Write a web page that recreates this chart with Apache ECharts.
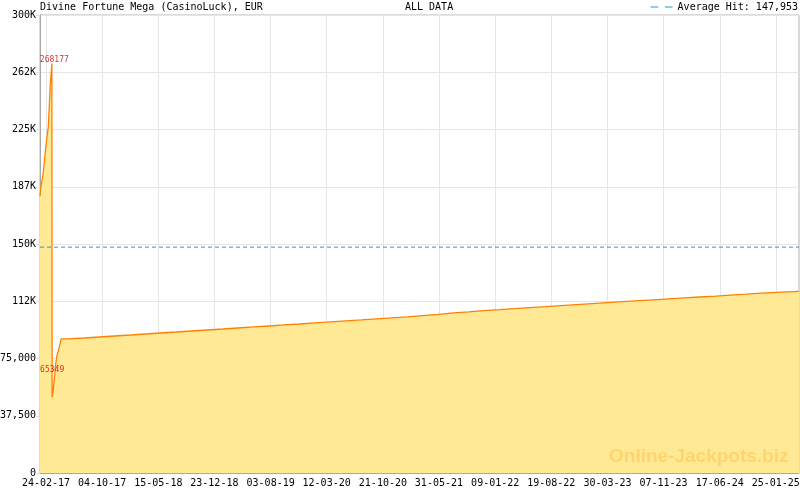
<!DOCTYPE html>
<html><head><meta charset="utf-8">
<script src="https://cdn.jsdelivr.net/npm/echarts@6/dist/echarts.min.js"></script>
<style>html,body{margin:0;padding:0;background:#fff}#c{width:800px;height:490px}</style>
</head><body><div id="c"></div>
<script>
const chartTitle = 'Divine Fortune Mega (CasinoLuck), EUR';
const periodLabel = 'ALL DATA';
const watermark = 'Online-Jackpots.biz';
const axisStart = '2017-01-31';
const axisEnd = '2025-04-27';
const tickLabels = ['24-02-17','04-10-17','15-05-18','23-12-18','03-08-19','12-03-20','21-10-20',
  '31-05-21','09-01-22','19-08-22','30-03-23','07-11-23','17-06-24','25-01-25'];
const jackpotDates = [
  '2017-01-31','2017-02-05','2017-02-09','2017-02-13','2017-02-17','2017-02-21','2017-02-25',
  '2017-03-01','2017-03-05','2017-03-09','2017-03-13','2017-03-16','2017-03-19','2017-03-20',
  '2017-03-23','2017-03-27','2017-03-31','2017-04-02','2017-04-08','2017-04-13','2017-04-18','2017-04-25',
  '2017-05-23','2017-07-26','2017-09-24','2017-11-23',
  '2018-01-25','2018-03-25','2018-05-24','2018-07-25','2018-09-24','2018-11-25',
  '2019-01-26','2019-03-26','2019-05-28','2019-07-27','2019-09-26','2019-11-26',
  '2020-01-25','2020-03-28','2020-05-26','2020-07-28','2020-09-26','2020-11-26',
  '2021-01-25','2021-03-27','2021-05-28','2021-07-29','2021-09-26','2021-11-25',
  '2022-01-27','2022-03-28','2022-05-26','2022-07-29','2022-09-26','2022-11-27',
  '2023-01-28','2023-03-29','2023-05-31','2023-07-30','2023-09-27','2023-11-30',
  '2024-01-28','2024-03-30','2024-06-01','2024-07-30','2024-09-29','2024-11-30',
  '2025-01-29','2025-04-27'];
const jackpotValues = [
  181400,189100,192300,197100,203300,210300,216000,
  221900,226900,240900,255800,261300,268177,49700,
  52300,58900,65000,69800,76800,79600,82900,87800,
  88430,89080,89740,90400,
  91050,91710,92360,93020,93680,94330,
  94990,95650,96300,96960,97610,98270,
  98930,99580,100240,100900,101550,102210,
  103060,103920,104840,105490,106350,107000,
  107660,108320,108970,109630,110290,110940,
  111600,112250,112850,113440,114090,114690,
  115280,115870,116520,117110,117770,118360,
  119020,119020];
const averageHit = 147953;
const hitDates = ['2017-03-19','2017-03-20'];
const hitValues = [268177, 65349];

const MONO = '"DejaVu Sans Mono", monospace';
function pad(n){return (n<10?'0':'')+n;}
function isoOf(t){const d=new Date(t);return d.getUTCFullYear()+'-'+pad(d.getUTCMonth()+1)+'-'+pad(d.getUTCDate());}
function shortOf(t){const d=new Date(t);return pad(d.getUTCDate())+'-'+pad(d.getUTCMonth()+1)+'-'+String(d.getUTCFullYear()).slice(2);}
const DAY = 86400000;
const t0 = Date.parse(axisStart+'T00:00:00Z'), t1 = Date.parse(axisEnd+'T00:00:00Z');
const categories = [], indexOf = {};
for (let t=t0, i=0; t<=t1; t+=DAY, i++){ categories.push(shortOf(t)); indexOf[isoOf(t)] = i; }
const N = categories.length;
const labelSet = new Set(tickLabels);
const labelIdx = tickLabels.map(l => categories.indexOf(l));
const minorSet = new Set();
for (let k=0;k<labelIdx.length-1;k++){
  for (let j=0;j<7;j++) minorSet.add(Math.round(labelIdx[k]+(labelIdx[k+1]-labelIdx[k])*j/7));
}
const lastStep = (labelIdx[labelIdx.length-1]-labelIdx[labelIdx.length-2])/7;
for (let p=labelIdx[labelIdx.length-1]; p<N; p+=lastStep) minorSet.add(Math.round(p));
const labelFn = (i, v) => labelSet.has(v);
const avgName = 'Average Hit: ' + averageHit.toLocaleString('en-US');

const chart = echarts.init(document.getElementById('c'), null, {renderer:'canvas'});
chart.setOption({
  animation:false,
  backgroundColor:'#fff',
  title:[
    {text:chartTitle,left:40,top:2,padding:0,textStyle:{fontFamily:MONO,fontSize:10,fontWeight:'normal',color:'#000'}},
    {text:periodLabel,left:405,top:2,padding:0,textStyle:{fontFamily:MONO,fontSize:10,fontWeight:'normal',color:'#000'}}
  ],
  legend:{data:[{name:avgName,icon:'path://M0,0H7V1H0Z M13,0H20V1H13Z'}],right:2,top:2,padding:0,itemWidth:22,itemHeight:1.5,
    textStyle:{fontFamily:MONO,fontSize:10,color:'#000'}},
  grid:{left:40,right:1,top:15,bottom:17,show:true,borderColor:'#b4b4b4',borderWidth:1,outerBoundsMode:'none',containLabel:false},
  xAxis:{type:'category',data:categories,boundaryGap:false,
    axisLine:{lineStyle:{color:'#a8a8a8'}},
    axisTick:{show:true,inside:true,length:4,interval:(i)=>minorSet.has(i),lineStyle:{color:'#999'}},
    axisLabel:{interval:labelFn,fontFamily:MONO,fontSize:10,color:'#000',margin:5},
    splitLine:{show:true,interval:labelFn,lineStyle:{color:'#e6e6e6'}}},
  yAxis:{type:'value',min:0,max:300000,interval:37500,
    axisLine:{show:true,lineStyle:{color:'#a8a8a8'}},
    axisTick:{show:true,length:4,lineStyle:{color:'#e0e0e0'}},
    axisLabel:{fontFamily:MONO,fontSize:10,color:'#000',margin:4,
      formatter:v=> v===0?'0':(v>=100000?Math.floor(v/1000)+'K':v.toLocaleString('en-US'))},
    splitLine:{show:true,lineStyle:{color:'#e6e6e6'}}},
  graphic:[{type:'text',left:609,top:447,z:100,style:{text:watermark,font:'bold 19px "Liberation Sans", Arial, sans-serif',
    fill:'#ffd46e'}}],
  series:[
    {type:'line',name:'jackpot',step:'end',symbol:'none',z:2,
     data:jackpotDates.map((d,i)=>[indexOf[d],jackpotValues[i]]),
     lineStyle:{color:'#ff8000',width:1.3},areaStyle:{color:'#ffe994',opacity:1}},
    {type:'line',name:avgName,symbol:'none',showSymbol:false,z:3,
     data:[[0,averageHit],[N-1,averageHit]],
     itemStyle:{color:'#1f9ddb'},
     lineStyle:{color:'#1f9ddb',width:1,type:[4,3]}},
    {type:'scatter',name:'hits',z:4,symbolSize:1,itemStyle:{color:'rgba(0,0,0,0)'},
     data:hitDates.map((d,i)=>[indexOf[d],hitValues[i]]),
     label:{show:true,position:'top',distance:0,align:'left',offset:[-12,1],
       formatter:p=>String(p.value[1]),fontFamily:MONO,fontSize:8,color:'#cc0000'}}
  ]
});
</script></body></html>
